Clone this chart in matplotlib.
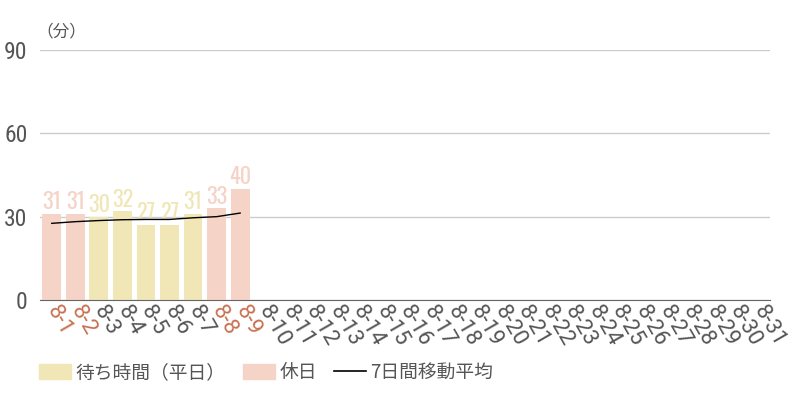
import matplotlib.pyplot as plt
from matplotlib.patches import Patch
from matplotlib.lines import Line2D

plt.rcParams['font.family'] = ['Roboto Condensed', 'Roboto', 'Noto Sans CJK JP', 'DejaVu Sans']

# data
days = ['8-%d' % d for d in range(1, 32)]
wait = [31, 31, 30, 32, 27, 27, 31, 33, 40]
holiday = [True, True, False, False, False, False, False, True, True]
moving_avg = [27.6, 28.2, 28.6, 28.9, 29.0, 29.0, 29.6, 30.0, 31.3]

weekday_color = '#f0e6b6'
holiday_color = '#f5d3c6'
holiday_text = '#c8704f'
text_gray = '#555555'

fig = plt.figure(figsize=(8, 4), dpi=100)
ax = fig.add_axes([0.05, 0.25, 0.9125, 0.625])

x = list(range(len(days)))
n = len(wait)
colors = [holiday_color if h else weekday_color for h in holiday]
bars = ax.bar(x[:n], wait, width=0.8, color=colors, zorder=2)
for xi, v, c in zip(x[:n], wait, colors):
    ax.text(xi, v + 0.2, str(v), ha='center', va='bottom', color=c,
            fontsize=16, family=['Oswald', 'Roboto Condensed', 'DejaVu Sans'],
            zorder=3)
ax.plot(x[:n], moving_avg, color='black', lw=1, zorder=4)

ax.set_xlim(-0.5, len(days) - 0.5)
ax.set_ylim(0, 90)
ax.set_yticks([0, 30, 60, 90])
ax.yaxis.grid(True, color='#cccccc', lw=1, zorder=0)
ax.set_axisbelow(True)
for s in ['left', 'right', 'top']:
    ax.spines[s].set_visible(False)
ax.spines['bottom'].set_color('#666666')
ax.tick_params(axis='y', length=0, labelsize=17, labelcolor=text_gray, pad=9)
ax.tick_params(axis='x', length=0, pad=5)
ax.set_xticks(x)
ax.set_xticklabels(days, rotation=-60, ha='left', va='center',
                   rotation_mode='anchor', fontsize=16,
                   family=['Roboto', 'DejaVu Sans'])
for i, lab in enumerate(ax.get_xticklabels()):
    if i < n and holiday[i]:
        lab.set_color(holiday_text)
    else:
        lab.set_color(text_gray)

fig.text(0.046, 0.9, '（分）', fontsize=12, color=text_gray,
         family=['Noto Sans CJK JP', 'DejaVu Sans'], ha='left', va='bottom')

handles = [Patch(color=weekday_color), Patch(color=holiday_color),
           Line2D([0], [0], color='black', lw=1.2)]
fig.legend(handles, ['待ち時間（平日）', '休日', '7日間移動平均'],
           loc='lower left', bbox_to_anchor=(0.028, 0.0), ncol=3, frameon=False,
           prop={'family': ['Noto Sans CJK JP', 'DejaVu Sans'], 'size': 13.5},
           labelcolor=text_gray, handlelength=1.7, handleheight=0.8,
           columnspacing=0.9, handletextpad=0.25)

fig.savefig('out.png')
